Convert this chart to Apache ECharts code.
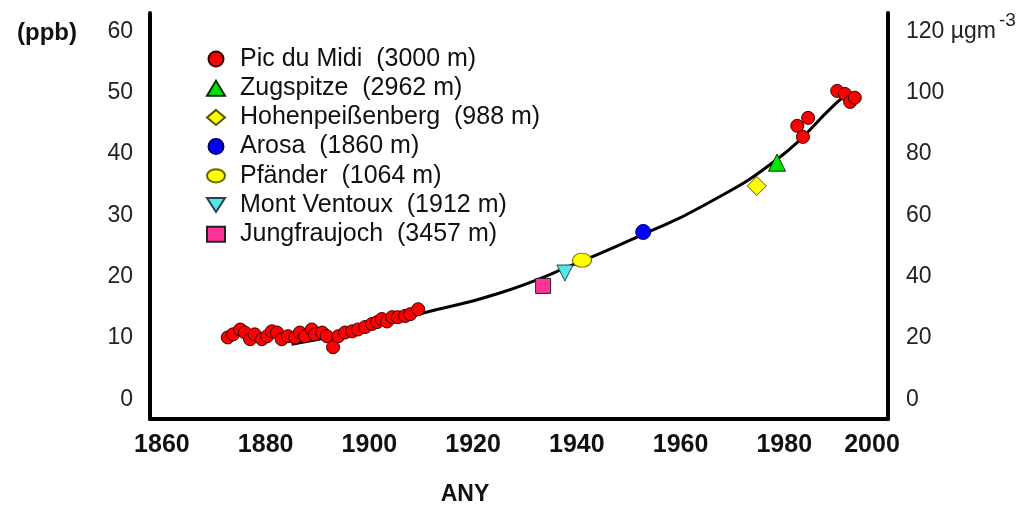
<!DOCTYPE html>
<html>
<head>
<meta charset="utf-8">
<script src="https://cdn.jsdelivr.net/npm/echarts@6/dist/echarts.min.js"></script>
<style>
  html, body { margin: 0; padding: 0; background: #fff; }
  #chart { width: 1036px; height: 512px; }
</style>
</head>
<body>
<div id="chart"></div>
<script>
// Tick labels
const yearTicks = [1860, 1880, 1900, 1920, 1940, 1960, 1980, 2000];
const ppbTicks = [0, 10, 20, 30, 40, 50, 60];
const massTicks = [0, 20, 40, 60, 80, 100, 120];

// Station names
const stationNames = [
  'Pic du Midi  (3000 m)',
  'Zugspitze  (2962 m)',
  'Hohenpeißenberg  (988 m)',
  'Arosa  (1860 m)',
  'Pfänder  (1064 m)',
  'Mont Ventoux  (1912 m)',
  'Jungfraujoch  (3457 m)'
];

// Ozone measurements [year, ppb]
const picDuMidi = [
  [1872.7, 10.1], [1873.7, 10.6], [1875.1, 11.4], [1876.0, 10.9], [1877.0, 9.8],
  [1877.9, 10.6], [1879.3, 9.8], [1880.3, 10.3], [1881.2, 11.1], [1882.2, 10.9],
  [1883.1, 9.8], [1884.3, 10.3], [1885.7, 10.1], [1886.6, 10.9], [1887.6, 10.3],
  [1888.9, 11.4], [1889.5, 10.6], [1890.9, 10.9], [1891.8, 10.3], [1893.0, 8.5],
  [1894.0, 10.3], [1895.3, 10.9], [1896.7, 11.1], [1897.8, 11.4], [1899.2, 11.8],
  [1900.5, 12.3], [1901.5, 12.6], [1902.4, 13.1], [1903.4, 12.7], [1904.4, 13.4],
  [1905.5, 13.4], [1906.9, 13.6], [1907.9, 13.9], [1909.4, 14.7],
  [1982.5, 44.6], [1983.6, 42.8], [1984.6, 45.9],
  [1990.2, 50.3], [1991.7, 49.8], [1992.7, 48.5], [1993.6, 49.2]
];
const zugspitze = [[1978.6, 38.6]];
const hohenpeissenberg = [[1974.7, 34.8]];
const arosa = [[1952.8, 27.3]];
const pfaender = [[1941.0, 22.7]];
const montVentoux = [[1937.7, 20.6]];
const jungfraujoch = [[1933.5, 18.5]];

// Fitted trend curve [year, ppb]
const trend = [
  [1885, 9.0], [1895, 10.7], [1910, 14.0], [1925, 17.3], [1940, 22.2],
  [1953, 27.0], [1964, 31.4], [1979, 39.4], [1990, 48.3], [1992.5, 50.0]
];

const FONT = 'Liberation Sans, Arial, sans-serif';
const ellipsePath = 'path://M0,7 A9.5,7 0 1,0 19,7 A9.5,7 0 1,0 0,7 Z';
const downTrianglePath = 'path://M0,0 L18,0 L9,14 Z';

function station(name, data, symbol, size, color, border, extra) {
  return Object.assign({
    name: name,
    type: 'scatter',
    data: data,
    symbol: symbol,
    symbolSize: size,
    symbolKeepAspect: true,
    z: 3,
    itemStyle: { color: color, borderColor: border, borderWidth: 1, opacity: 1 }
  }, extra || {});
}

const legendItems = stationNames.map(function (n, i) {
  if (i === 4) return { name: n, icon: ellipsePath };
  if (i === 5) return { name: n, icon: downTrianglePath };
  return { name: n };
});

const chart = echarts.init(document.getElementById('chart'), null, { renderer: 'canvas' });

chart.setOption({
  animation: false,
  backgroundColor: '#ffffff',
  grid: { left: 150, right: 148, top: 13, bottom: 93, containLabel: false },
  legend: {
    data: legendItems,
    orient: 'vertical',
    left: 201,
    top: 41,
    itemWidth: 18,
    itemHeight: 15,
    itemGap: 3.2,
    symbolKeepAspect: true,
    selectedMode: false,
    textStyle: { fontFamily: FONT, fontSize: 25, color: '#111', lineHeight: 26, padding: [0, 0, 0, 10] }
  },
  xAxis: {
    type: 'value',
    min: 1857.7,
    max: 2000,
    name: 'ANY',
    nameLocation: 'middle',
    nameGap: 64,
    nameTextStyle: { fontFamily: FONT, fontSize: 23, fontWeight: 'bold', color: '#111', padding: [0, 108, 0, 0] },
    axisLine: { onZero: false, lineStyle: { color: '#000', width: 4 } },
    axisTick: { show: false },
    splitLine: { show: false },
    axisLabel: {
      customValues: yearTicks,
      margin: 14,
      fontFamily: FONT,
      fontSize: 25,
      fontWeight: 'bold',
      color: '#111',
      formatter: function (v) { return v === 2000 ? '{e|2000}' : String(v); },
      rich: {
        e: { fontFamily: FONT, fontSize: 25, fontWeight: 'bold', color: '#111', padding: [0, 32, 0, 0] }
      }
    }
  },
  yAxis: [
    {
      type: 'value',
      position: 'left',
      min: -3.2,
      max: 63,
      name: '(ppb)',
      nameLocation: 'end',
      nameGap: -20,
      nameTextStyle: { fontFamily: FONT, fontSize: 24, fontWeight: 'bold', color: '#111', align: 'right', verticalAlign: 'middle', padding: [0, 73, 0, 0] },
      axisLine: { show: true, onZero: false, lineStyle: { color: '#000', width: 4 } },
      axisTick: { show: false },
      splitLine: { show: false },
      axisLabel: {
        customValues: ppbTicks,
        margin: 17,
        fontFamily: FONT,
        fontSize: 23,
        color: '#222'
      }
    },
    {
      type: 'value',
      position: 'right',
      min: -6.4,
      max: 126,
      axisLine: { show: true, onZero: false, lineStyle: { color: '#000', width: 4 } },
      axisTick: { show: false },
      splitLine: { show: false },
      axisLabel: {
        customValues: massTicks,
        margin: 18,
        fontFamily: FONT,
        fontSize: 23,
        color: '#222',
        formatter: function (v) { return v === 120 ? '{u|120 µgm}{sup|-3}' : String(v); },
        rich: {
          u: { fontFamily: FONT, fontSize: 23, color: '#222', lineHeight: 40 },
          sup: { fontFamily: FONT, fontSize: 19, color: '#222', lineHeight: 19, verticalAlign: 'top', padding: [0, 0, 0, 3] }
        }
      }
    }
  ],
  series: [
    {
      name: 'trend',
      type: 'line',
      data: trend,
      smooth: 0.5,
      symbol: 'none',
      z: 2,
      lineStyle: { color: '#000', width: 3 }
    },
    station(stationNames[0], picDuMidi, 'circle', 13, '#ff0000', '#3a0000'),
    station(stationNames[1], zugspitze, 'triangle', 17, '#00e600', '#003300'),
    station(stationNames[2], hohenpeissenberg, 'diamond', 19, '#ffff00', '#555500'),
    station(stationNames[3], arosa, 'circle', 15, '#0000ff', '#000066'),
    station(stationNames[4], pfaender, 'circle', [19, 14], '#ffff00', '#666600', { symbolKeepAspect: false }),
    station(stationNames[5], montVentoux, 'triangle', 16, '#55e6e6', '#224455', { symbolRotate: 180 }),
    station(stationNames[6], jungfraujoch, 'rect', 15, '#ff3399', '#222222')
  ]
});
</script>
</body>
</html>
